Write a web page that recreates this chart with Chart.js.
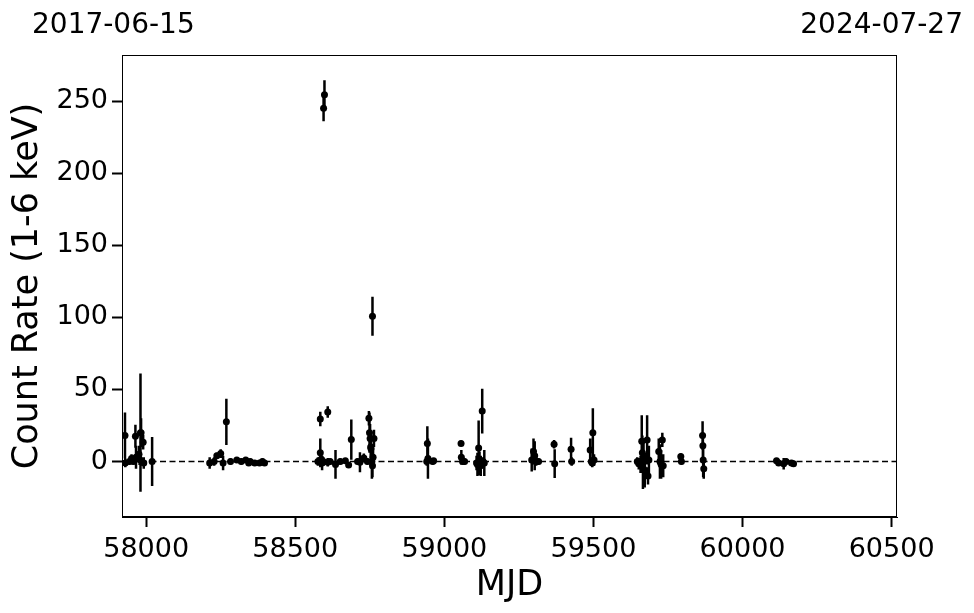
<!DOCTYPE html>
<html>
<head>
<meta charset="utf-8">
<script src="https://cdn.jsdelivr.net/npm/chart.js@4.4.0/dist/chart.umd.min.js"></script>
<style>
  html, body { margin: 0; padding: 0; background: #fff; }
  #wrap { width: 974px; height: 613px; }
</style>
</head>
<body>
<div id="wrap"><canvas id="lcChart" width="974" height="613"></canvas></div>
<script>
// light curve values
const mjd = [
  57929, 57930, 57944, 57951, 57957, 57964, 57966, 57976, 57978, 57981, 57983, 57990, 57992, 58020,
  58213, 58228, 58237, 58250, 58258, 58269, 58283, 58304, 58319, 58334, 58344, 58349, 58364, 58380, 58390, 58397,
  58576, 58584, 58584, 58587, 58590, 58594, 58595, 58598, 58609, 58609, 58617, 58635, 58651, 58668, 58679, 58688,
  58709, 58717, 58730, 58742, 58747, 58749, 58751, 58753, 58754, 58757, 58759, 58759, 58761, 58764,
  58941, 58943, 58945, 58961, 58964,
  59056, 59057, 59061, 59068, 59108, 59111, 59115, 59118, 59122, 59127, 59130, 59134,
  59293, 59299, 59303, 59308, 59316,
  59368, 59370, 59425, 59427,
  59489, 59493, 59496, 59498, 59502,
  59647, 59652, 59658, 59662, 59664, 59666, 59668, 59672, 59680, 59683, 59686,
  59719, 59723, 59727, 59731, 59734, 59793, 59795,
  59866, 59867, 59868, 59870,
  60114, 60121, 60138, 60146, 60164, 60171
];
const rate = [
  18, -1, 0, 2, 0, 17.5, 3, 5, 1.5, 20, 20, 13.3, -1, 0,
  -1, 0, 4, 5.5, -1, 27.5, 0, 1, 0, 1, -1, 0, -1, -1, 0, -1,
  0, 29.5, 6, 1.5, -1, 0, 245, 254.5, 34.3, -0.5, 0, -2, 0, 0.5, -2.5, 15.2,
  0, -0.5, 2.5, 0, 30, 20, 16, 10, 9, 0, -3, 100.8, 3, 16,
  0, 12.5, 2, 0, 0.5,
  12.5, 3, 0, 0, -1, -2, 9.4, 1, -3, 35, 0, -1,
  1, 7, 4, 0, 0,
  12, -1.5, 8.5, 0,
  8, 0, -1, 20, 1,
  0, -1.5, -2, 14, 6, -4, 0, -6, 15, -10, 1,
  7, 0, -2, 15, -3, 3.5, 0,
  18, 11, 1, -5,
  0.5, -1, -1.5, 0, -1, -1.5
];
const rateErr = [
  16, 3, 2, 3, 2, 8, 8, 6, 4, 41, 10, 5, 4, 17,
  4, 3, 2, 3, 5, 16, 2, 2, 2, 2, 2, 2, 2, 2, 2, 2,
  3, 5, 10, 3, 5, 3, 9, 10, 4, 3, 2, 10, 2, 2, 2, 14,
  2, 7, 3, 2, 5, 14, 10, 8, 12, 12, 8, 13.5, 6, 6,
  3, 12, 14, 2, 2,
  2, 5, 2, 2, 5, 8, 19, 6, 7, 15.5, 3, 9,
  8, 9, 10, 3, 2,
  3, 10, 8, 3,
  8, 3, 3, 17, 4,
  3, 4, 6, 18, 12, 15, 16, 12, 17, 6, 10,
  9, 12, 10, 5, 8, 2, 2,
  10, 8, 12, 7,
  2, 2, 4, 2, 2, 2
];

const xTicks = [58000, 58500, 59000, 59500, 60000, 60500];
const yTicks = [0, 50, 100, 150, 200, 250];
const dateLabels = ['2017-06-15', '2024-07-27'];
const xLimits = [57919, 60518];
const yLimits = [-38.5, 282];

const points = mjd.map((m, i) => ({ x: m, y: rate[i] }));

// vertical error bars as broken line segments
const errSegments = [];
mjd.forEach((m, i) => {
  errSegments.push({ x: m, y: rate[i] - rateErr[i] });
  errSegments.push({ x: m, y: rate[i] + rateErr[i] });
  errSegments.push({ x: m, y: null });
});

const zeroLine = [{ x: xLimits[0], y: 0 }, { x: xLimits[1], y: 0 }];

const FONT = 'DejaVu Sans';

// frame on all four sides plus the two date labels at the top
const framePlugin = {
  id: 'frame',
  afterDraw(chart) {
    const ctx = chart.ctx;
    const a = chart.chartArea;
    ctx.save();
    ctx.strokeStyle = '#000';
    ctx.lineWidth = 1;
    ctx.strokeRect(a.left + 0.5, a.top + 0.5, a.right - a.left - 1, a.bottom - a.top - 1);
    ctx.fillStyle = '#000';
    ctx.font = '28px "' + FONT + '"';
    ctx.textBaseline = 'alphabetic';
    ctx.textAlign = 'left';
    ctx.fillText(dateLabels[0], 32, 33);
    ctx.textAlign = 'right';
    ctx.fillText(dateLabels[1], 963, 33);
    ctx.restore();
  }
};

new Chart(document.getElementById('lcChart'), {
  type: 'scatter',
  data: {
    datasets: [
      {
        label: 'zero',
        data: zeroLine,
        showLine: true,
        borderColor: '#000',
        borderWidth: 1.5,
        borderDash: [6, 3.5],
        pointRadius: 0,
        order: 3
      },
      {
        label: 'err',
        data: errSegments,
        showLine: true,
        spanGaps: false,
        borderColor: '#000',
        borderWidth: 2.5,
        pointRadius: 0,
        order: 2
      },
      {
        label: 'rate',
        data: points,
        backgroundColor: '#000',
        borderColor: '#000',
        pointRadius: 3.5,
        borderWidth: 0,
        order: 1
      }
    ]
  },
  options: {
    responsive: false,
    animation: false,
    layout: { padding: { left: 7, right: 77, top: 55, bottom: 0 } },
    plugins: {
      legend: { display: false },
      tooltip: { enabled: false }
    },
    scales: {
      x: {
        type: 'linear',
        min: xLimits[0],
        max: xLimits[1],
        afterBuildTicks: (s) => { s.ticks = xTicks.map(v => ({ value: v })); },
        afterFit: (s) => { s.height = 96; },
        border: { display: true, color: '#000', width: 1 },
        grid: { drawOnChartArea: false, drawTicks: true, tickLength: 10, tickWidth: 2, tickColor: '#000' },
        ticks: {
          color: '#000',
          font: { family: FONT, size: 27 },
          padding: 7,
          maxRotation: 0,
          callback: (v) => String(v)
        },
        title: {
          display: true,
          text: 'MJD',
          color: '#000',
          font: { family: FONT, size: 35 },
          padding: { top: 0, bottom: 6 }
        }
      },
      y: {
        type: 'linear',
        min: yLimits[0],
        max: yLimits[1],
        afterBuildTicks: (s) => { s.ticks = yTicks.map(v => ({ value: v })); },
        afterFit: (s) => { s.width = 115; },
        border: { display: true, color: '#000', width: 1 },
        grid: { drawOnChartArea: false, drawTicks: true, tickLength: 10, tickWidth: 2, tickColor: '#000' },
        ticks: {
          color: '#000',
          font: { family: FONT, size: 27 },
          padding: 4,
          callback: (v) => String(v)
        },
        title: {
          display: true,
          text: 'Count Rate (1-6 keV)',
          color: '#000',
          font: { family: FONT, size: 35 },
          padding: { top: 0, bottom: 0 }
        }
      }
    }
  },
  plugins: [framePlugin]
});
</script>
</body>
</html>
